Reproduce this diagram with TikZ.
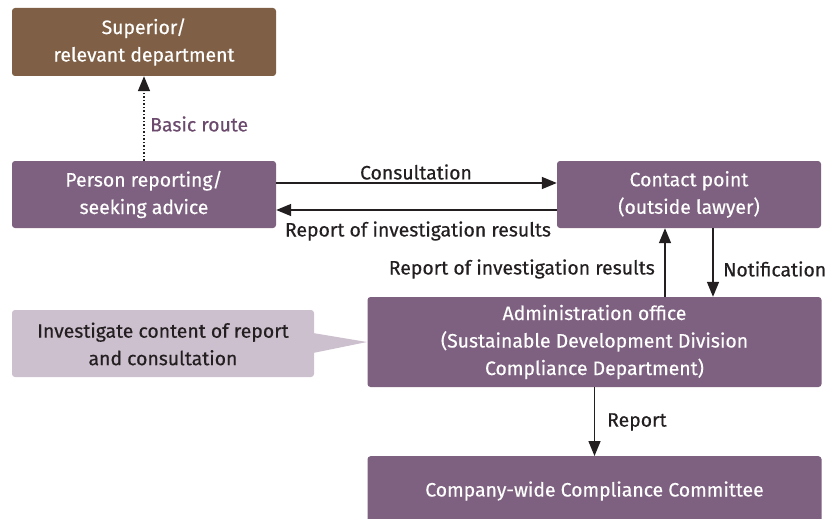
\documentclass[tikz,border=0pt]{standalone}
\usepackage{fontspec}
\setmainfont{Fira Sans}[FakeBold=0.4,UprightFont=*,BoldFont=*]
\usetikzlibrary{arrows.meta}
\definecolor{boxpurple}{HTML}{7E6080}
\definecolor{boxbrown}{HTML}{7F6046}
\definecolor{calloutc}{HTML}{CCBFCE}
\definecolor{labpurple}{HTML}{6B4A6E}
\definecolor{ink}{HTML}{231F20}
\newcommand{\bodyfont}{\fontsize{19.4}{27.5}\selectfont\bfseries}
\begin{document}
\begin{tikzpicture}[x=1pt,y=-1pt,
  box/.style={fill=boxpurple,rounded corners=3pt,text=white,align=center,font=\bodyfont,inner sep=0pt},
  lab/.style={font=\bodyfont,text=ink,inner sep=0pt},
  conn/.style={draw=ink,line width=1.5pt,-{Triangle[length=15pt,width=12pt]}}]
\useasboundingbox (0,0) rectangle (838,519);
\node[box,fill=boxbrown,minimum width=264pt,minimum height=68pt] (sup) at (144,42) {Superior/\\relevant department};
\node[box,minimum width=264pt,minimum height=67pt] (per) at (144,194.5) {Person reporting/\\seeking advice};
\node[box,minimum width=264pt,minimum height=67pt] (con) at (689,194.5) {Contact point\\(outside lawyer)};
\node[box,minimum width=454pt,minimum height=90pt] (adm) at (594.5,342) {Administration office\\(Sustainable Development Division\\Compliance Department)};
\node[box,minimum width=454pt,minimum height=75pt,anchor=north] (com) at (594.5,456) {};
\node[font=\bodyfont,text=white,inner sep=0pt] (comt) at (594.5,491) {Company-wide Compliance Committee};
\coordinate (tip) at (367,342);
\fill[calloutc,rounded corners=3pt] (12,310) rectangle (314,377);
\fill[calloutc] (313,333) -- (tip) -- (313,353) -- cycle;
\node[font=\bodyfont,text=ink,align=center,inner sep=0pt] (inv) at (163,344) {Investigate content of report\\and consultation};
% connectors
\draw[conn,dotted,line width=1.6pt] (per.north) -- (sup.south);
\node[lab,text=labpurple,anchor=west] (basic) at (150,124) {Basic route};
\draw[conn] (per.east |- 0,183) -- (con.west |- 0,183);
\node[lab] (cons) at (416,172) {Consultation};
\draw[conn] (con.west |- 0,210) -- (per.east |- 0,210);
\node[lab] (rep1) at (418,231) {Report of investigation results};
\draw[conn] (adm.north -| 665,0) -- (con.south -| 665,0);
\node[lab,anchor=east] (rep2) at (655,269) {Report of investigation results};
\draw[conn] (con.south -| 713,0) -- (adm.north -| 713,0);
\node[lab,anchor=west] (noti) at (723,269) {Notification};
\draw[conn] (adm.south) -- (com.north);
\node[lab,anchor=west] (rep3) at (607,422) {Report};
\end{tikzpicture}
\end{document}
